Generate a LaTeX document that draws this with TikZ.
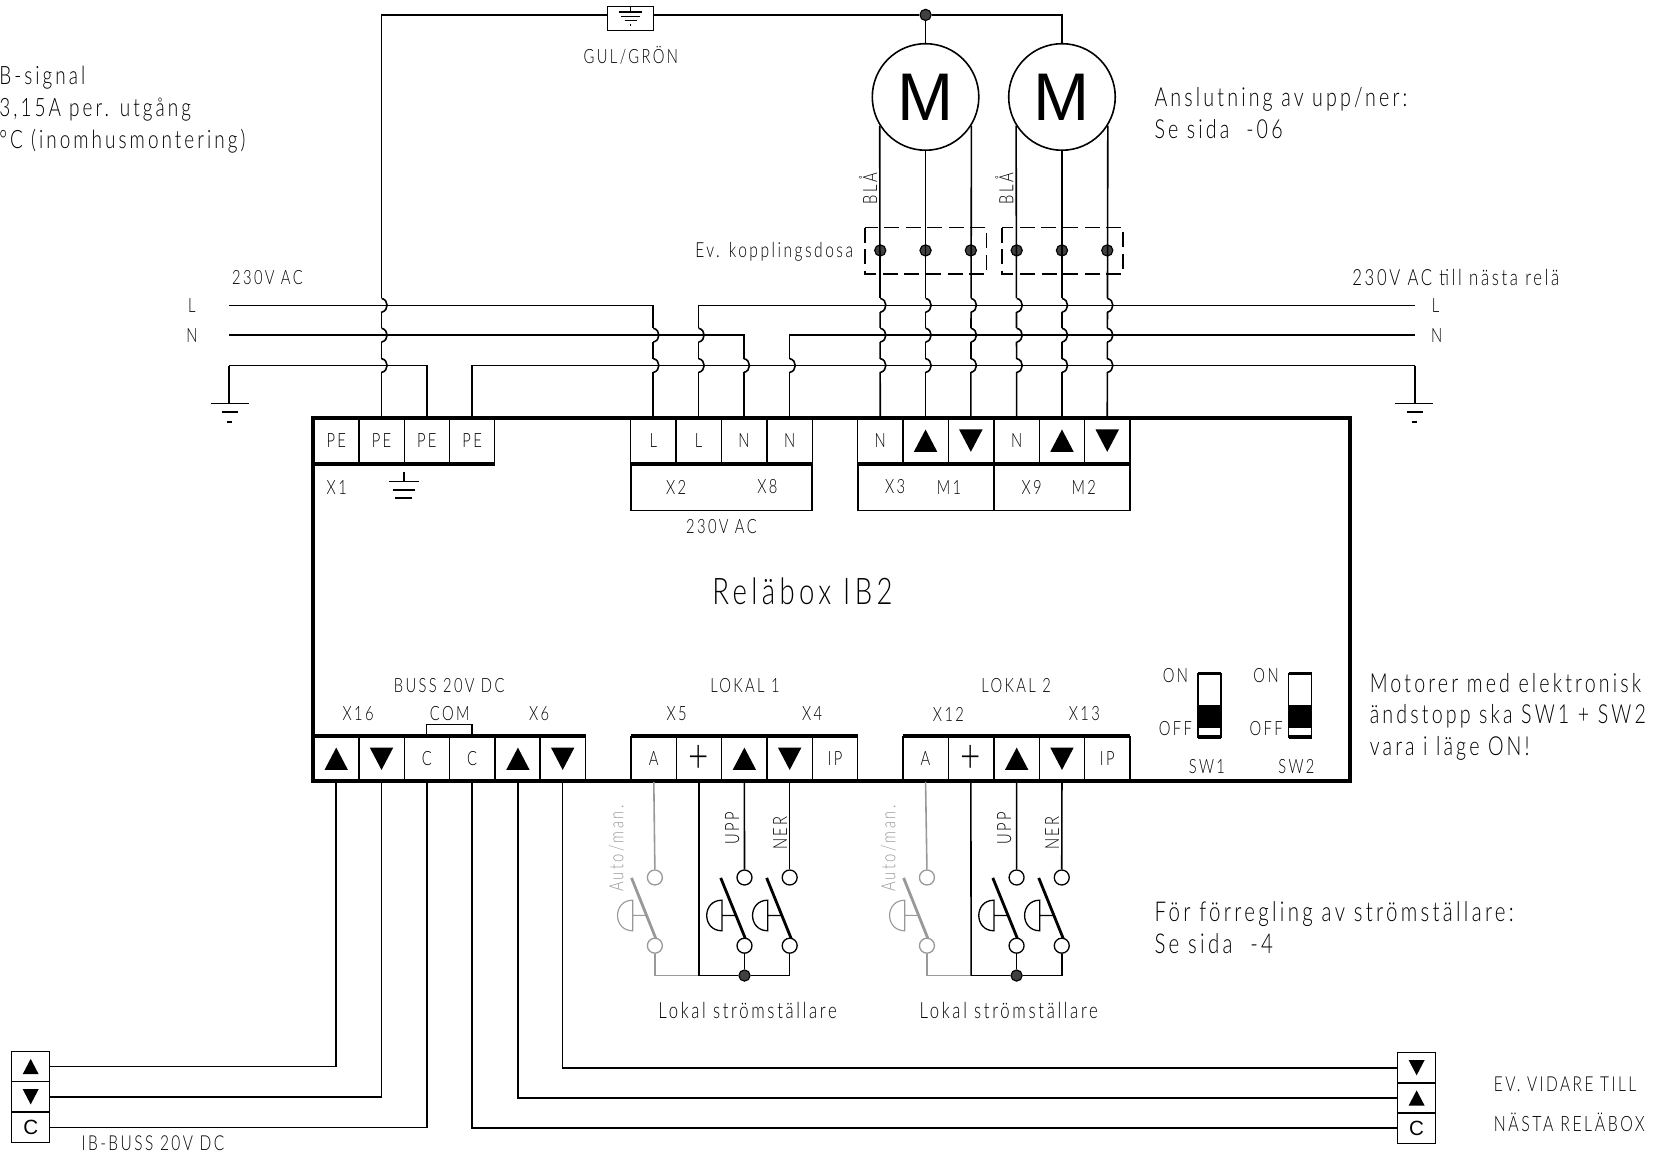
\documentclass[tikz,border=0pt]{standalone}
\usepackage{fontspec}
\setmainfont{Lato Light}[FakeStretch=0.75,LetterSpace=12]
\newfontfamily\widefont{Liberation Sans}
\tikzset{
  wire/.style={line width=0.85pt},
  hvedge/.style={to path={-| (\tikztotarget)}},
  vhedge/.style={to path={|- (\tikztotarget)}},
  bar/.style={line width=1.9pt},
  greyed/.style={black!40},
  cell/.style={draw,line width=0.7pt,minimum width=24.2pt,minimum height=24pt,inner sep=0pt},
  tinycell/.style={draw,line width=0.7pt,minimum width=20.3pt,minimum height=16.2pt,inner sep=0pt,font=\widefont\fontsize{11}{13}\selectfont},
  smalltext/.style={inner sep=0pt,font=\fontsize{10.5}{12}\selectfont},
  widertext/.style={font=\fontsize{11.9}{13}\selectfont},
  bigtext/.style={inner sep=0pt,anchor=base west,font=\fontsize{14}{16}\selectfont},
  contact/.style={circle,draw,fill=white,line width=0.7pt,inner sep=0pt,minimum size=8pt},
  dot/.style={circle,draw,fill=black!75,line width=0.6pt,inner sep=0pt,minimum size=6pt},
  motor/.style={circle,draw,line width=0.85pt,inner sep=0pt,minimum size=56.9pt,font=\widefont\fontsize{36}{36}\selectfont},
  hop/.pic={
    \fill[white] (-1.5,-6.5) rectangle (1.5,6.5);
    \draw[wire] (-3,0) -- (8,0);
    \draw[wire] (0,-6.5) .. controls (7,-5) and (7,5) .. (0,6.5);
  },
  upmark/.pic={\fill (-11,10.5) -- (11,10.5) -- (0,-10.5) -- cycle;},
  downmark/.pic={\fill (-11,-10.5) -- (11,-10.5) -- (0,10.5) -- cycle;},
  localsw/.pic={
    \node[contact,draw=black!40] (-at) at (-41.5,0) {};
    \node[contact,draw=black!40] (-ab) at (-41.5,64) {};
    \node[contact] (-ut) at (42.6,0) {};
    \node[contact] (-ub) at (42.6,64) {};
    \node[contact] (-dt) at (85,0) {};
    \node[contact] (-db) at (85,64) {};
    \coordinate (-p) at (0,92);
    \coordinate (-g) at (-41.5,92);
    \coordinate (-d) at (85,92);
    \node[dot] (-j) at (42.6,92) {};
    \draw[wire,greyed] (-ab) -- (-g) -- (-p);
    \draw[wire] (-p) -- (-j) -- (-d) -- (-db);
    \draw[wire] (-ub) -- (-j);
    \draw[bar,black!40,line width=1.5pt] (-63.4,0.4) -- (-40.7,57);
    \draw[bar,line width=1.5pt] (20.3,0.4) -- (43.3,57);
    \draw[bar,line width=1.5pt] (63.4,0.4) -- (86.3,57);
    \draw[wire,black!40,line width=0.6pt] (-62.3,21.3) .. controls (-81.3,21.3) and (-81.3,50) .. (-62.3,50) -- cycle (-62.3,35.6) -- (-49,35.6);
    \draw[wire,line width=0.7pt] (21.4,21.3) .. controls (2.4,21.3) and (2.4,50) .. (21.4,50) -- cycle (21.4,35.6) -- (34.6,35.6);
    \draw[wire,line width=0.7pt] (64.4,21.3) .. controls (45.4,21.3) and (45.4,50) .. (64.4,50) -- cycle (64.4,35.6) -- (77.7,35.6);
    \node[smalltext,rotate=90,black!40] (-alab) at (-77.4,-27) {Auto/man.};
    \node[smalltext,rotate=90] (-ulab) at (31,-46) {UPP};
    \node[smalltext,rotate=90] (-nlab) at (76,-41.5) {NER};
  }
}

\begin{document}
\begin{tikzpicture}[x=0.02cm,y=-0.02cm]
    \useasboundingbox (0,0) rectangle (1568,1084);
    % relay box
    \draw[line width=2.3pt] (294,392.5) rectangle (1267,733);
    \node[inner sep=0pt,font=\fontsize{19.6}{21}\selectfont] (boxname) at (753,555) {Reläbox IB2};
    % terminals, top row
    \begin{scope}[every node/.style={cell,font=\fontsize{10.5}{12}\selectfont}]
      \node (pea) at (315.5,413.5) {PE};
      \node (peb) at (358,413.5) {PE};
      \node (pec) at (400.5,413.5) {PE};
      \node (ped) at (443,413.5) {PE};
      \node (la) at (613,413.5) {L};
      \node (lb) at (655.5,413.5) {L};
      \node (na) at (698,413.5) {N};
      \node (nb) at (741,413.5) {N};
      \node (mna) at (826,413.5) {N};
      \node (mua) at (868.5,413.5) {};
      \node (mda) at (911,413.5) {};
      \node (mnb) at (954,413.5) {N};
      \node (mub) at (996.5,413.5) {};
      \node (mdb) at (1039,413.5) {};
    \end{scope}
    \pic at (mua) {upmark};
    \pic at (mda) {downmark};
    \pic at (mub) {upmark};
    \pic at (mdb) {downmark};
    \draw[bar] (294,435.5) -- (464.5,435.5);
    \draw[bar] (592,435.5) -- (762,435.5);
    \draw[bar] (805,435.5) -- (1060,435.5);
    \node[cell,minimum width=96.8pt,minimum height=24.6pt] (lowlx) at (677,457.5) {};
    \node[cell,minimum width=72.6pt,minimum height=24.6pt] (lowa) at (869,457.5) {};
    \node[cell,minimum width=72.6pt,minimum height=24.6pt] (lowb) at (996.5,457.5) {};
    % terminals, bottom row
    \begin{scope}[every node/.style={cell,font=\fontsize{10.5}{12}\selectfont}]
      \node (busua) at (315.5,712) {};
      \node (busda) at (358,712) {};
      \node (busca) at (400.5,712) {C};
      \node (buscb) at (443,712) {C};
      \node (busub) at (486,712) {};
      \node (busdb) at (528,712) {};
      \node (aa) at (613.5,712) {A};
      \node (pa) at (656,712) {\fontsize{25}{25}\selectfont +};
      \node (ua) at (698.5,712) {};
      \node (da) at (741,712) {};
      \node (ipa) at (783.5,712) {IP};
      \node (ab) at (868.5,712) {A};
      \node (pb) at (911,712) {\fontsize{25}{25}\selectfont +};
      \node (ub) at (954,712) {};
      \node (db) at (996.5,712) {};
      \node (ipb) at (1039,712) {IP};
    \end{scope}
    \pic at (busua) {upmark};
    \pic at (busda) {downmark};
    \pic at (busub) {upmark};
    \pic at (busdb) {downmark};
    \pic at (ua) {upmark};
    \pic at (da) {downmark};
    \pic at (ub) {upmark};
    \pic at (db) {downmark};
    \draw[bar] (294,690.5) -- (549.5,690.5);
    \draw[bar] (592,690.5) -- (805.5,690.5);
    \draw[bar] (847,690.5) -- (1060.5,690.5);
    \draw[wire,line width=0.7pt] (busca.north) |- (422,680) -| (buscb.north);
    % motors
    \node[motor] (ma) at (868.5,91) {M};
    \node[motor] (mb) at (996.5,91) {M};
    \node[dot] (jtop) at (868.5,14) {};
    \node[dot] (ja) at (826,235) {};
    \node[dot] (jb) at (868.5,235) {};
    \node[dot] (jc) at (911,235) {};
    \node[dot] (jd) at (954,235) {};
    \node[dot] (je) at (996.5,235) {};
    \node[dot] (jf) at (1039,235) {};
    \coordinate (fusel) at (570,14);
    \coordinate (fuser) at (613,14);
    \coordinate (lin) at (215,286.5);
    \coordinate (lout) at (1327.5,286.5);
    \coordinate (nin) at (215,314.5);
    \coordinate (nout) at (1327.5,314.5);
    \coordinate (pein) at (215,343);
    \coordinate (peout) at (1327.5,343);
    \coordinate (gndl) at (215,378.5);
    \coordinate (gndr) at (1327.5,378.5);
    % wires
    \begin{scope}[every edge/.style={draw,wire}]
      \path (peb.north) edge[vhedge] (fusel);
      \path (fuser) edge (jtop);
      \path (jtop) edge[hvedge] (mb.north);
      \path (jtop) edge (ma.north);
      \path (ma.-148) edge (mna.north);
      \path (ma.south) edge (mua.north);
      \path (ma.-32) edge (mda.north);
      \path (mb.-148) edge (mnb.north);
      \path (mb.south) edge (mub.north);
      \path (mb.-32) edge (mdb.north);
      \path (lin) edge[hvedge] (la.north);
      \path (lout) edge[hvedge] (lb.north);
      \path (nin) edge[hvedge] (na.north);
      \path (nout) edge[hvedge] (nb.north);
      \path (pein) edge[hvedge] (pec.north);
      \path (peout) edge[hvedge] (ped.north);
      \path (pein) edge (gndl);
      \path (peout) edge (gndr);
    \end{scope}
    % crossings
    \path (358,286.5) pic {hop} (358,314.5) pic {hop} (358,343) pic {hop};
    \path (613,314.5) pic {hop} (613,343) pic {hop};
    \path (655.5,314.5) pic {hop} (655.5,343) pic {hop};
    \path (698,343) pic {hop};
    \path (741,343) pic {hop};
    \path (826,286.5) pic {hop} (826,314.5) pic {hop} (826,343) pic {hop};
    \path (868.5,286.5) pic {hop} (868.5,314.5) pic {hop} (868.5,343) pic {hop};
    \path (911,286.5) pic {hop} (911,314.5) pic {hop} (911,343) pic {hop};
    \path (954,286.5) pic {hop} (954,314.5) pic {hop} (954,343) pic {hop};
    \path (996.5,286.5) pic {hop} (996.5,314.5) pic {hop} (996.5,343) pic {hop};
    \path (1039,286.5) pic {hop} (1039,314.5) pic {hop} (1039,343) pic {hop};
    % earth symbols
    \draw[wire] (198,378.5) -- (234,378.5);
    \draw[wire] (208,386.5) -- (223,386.5);
    \draw[wire] (213,396) -- (218,396);
    \draw[wire] (1309,378.5) -- (1345,378.5);
    \draw[wire] (1320,386.5) -- (1335,386.5);
    \draw[wire] (1325,396) -- (1330,396);
    \draw[wire] (379,443) -- (379,452);
    \draw[wire] (365,452) -- (393.5,452);
    \draw[wire] (368.5,460) -- (389.5,460);
    \draw[wire] (371,467.5) -- (387,467.5);
    % protective earth box
    \node[draw,wire,minimum width=24.5pt,minimum height=12.8pt,inner sep=0pt] (fuse) at (591.5,17.2) {};
    \draw[wire] (591.5,6) -- (591.5,11.3);
    \draw[wire] (580.5,11.3) -- (602.5,11.3);
    \draw[wire] (583,15.5) -- (600.5,15.5);
    \draw[wire] (586,19.4) -- (597.5,19.4);
    \draw[wire] (591,23.6) -- (592.5,23.6);
    % junction boxes
    \draw[wire,dashed,dash pattern=on 8pt off 3.5pt] (811.4,213.5) rectangle (925.5,257);
    \draw[wire,dashed,dash pattern=on 8pt off 3.5pt] (940,213.5) rectangle (1053.5,257);
    % local switches
    \pic (swa) at (656,823.4) {localsw};
    \pic (swb) at (911.3,823.4) {localsw};
    \begin{scope}[every edge/.style={draw,wire}]
      \path (aa.south) edge[black!40] (swa-at.north);
      \path (pa.south) edge (swa-p);
      \path (ua.south) edge (swa-ut.north);
      \path (da.south) edge (swa-dt.north);
      \path (ab.south) edge[black!40] (swb-at.north);
      \path (pb.south) edge (swb-p);
      \path (ub.south) edge (swb-ut.north);
      \path (db.south) edge (swb-dt.north);
    \end{scope}
    % DIP switches
    \node[draw,line width=0.7pt,minimum width=12.3pt,minimum height=34.2pt,inner sep=0pt] (swone) at (1134.8,662) {};
    \node[draw,line width=0.7pt,minimum width=12.3pt,minimum height=34.2pt,inner sep=0pt] (swtwo) at (1220,662) {};
    \fill (1124,661.4) rectangle (1145.6,683.3);
    \fill (1209.2,661.4) rectangle (1230.8,683.3);
    \draw[bar] (1124,632) -- (1145.6,632);
    \draw[bar] (1124,691.5) -- (1145.6,691.5);
    \draw[bar] (1209.2,632) -- (1230.8,632);
    \draw[bar] (1209.2,691.5) -- (1230.8,691.5);
    % bus ends
    \node[tinycell] (ibu) at (28.8,1000.8) {};
    \node[tinycell] (ibd) at (28.8,1029.2) {};
    \node[tinycell] (ibc) at (28.8,1057.8) {C};
    \node[tinycell] (nxd) at (1329.3,1001.9) {};
    \node[tinycell] (nxu) at (1329.3,1030.3) {};
    \node[tinycell] (nxc) at (1329.3,1058.7) {C};
    \pic[scale=.68] at (ibu) {upmark};
    \pic[scale=.68] at (ibd) {downmark};
    \pic[scale=.68] at (nxd) {downmark};
    \pic[scale=.68] at (nxu) {upmark};
    \begin{scope}[every edge/.style={draw,wire}]
      \path (busua.south) edge[vhedge] (ibu.east);
      \path (busda.south) edge[vhedge] (ibd.east);
      \path (busca.south) edge[vhedge] (ibc.east);
      \path (busdb.south) edge[vhedge] (nxd.west);
      \path (busub.south) edge[vhedge] (nxu.west);
      \path (buscb.south) edge[vhedge] (nxc.west);
    \end{scope}
    % labels
    \begin{scope}[every node/.style={smalltext}]
      \node (tgul) at (592,52) {GUL/GRÖN};
      \node[font=\fontsize{11.1}{13}\selectfont] (tdosa) at (726.5,236) {Ev. kopplingsdosa};
      \node[rotate=90] (tblaa) at (814.5,177) {BLÅ};
      \node[rotate=90] (tblab) at (942.5,177) {BLÅ};
      \node (tac) at (251,260) {230V AC};
      \node[widertext] (tacn) at (1366,260) {230V AC till nästa relä};
      \node (tla) at (180,287) {L};
      \node (tna) at (180,315) {N};
      \node (tlb) at (1347,287) {L};
      \node (tnb) at (1348,315) {N};
      \node (tx1) at (316,457) {X1};
      \node (tx2) at (634.5,457) {X2};
      \node (tx8) at (720,457) {X8};
      \node (tx3) at (840,457) {X3};
      \node (tm1) at (890.5,457) {M1};
      \node (tx9) at (968,457) {X9};
      \node (tm2) at (1017,457) {M2};
      \node (tacb) at (677,494) {230V AC};
      \node (tbuss) at (421.5,643) {BUSS 20V DC};
      \node (tx16) at (336,670) {X16};
      \node (tcom) at (422,670) {COM};
      \node (tx6) at (506,670) {X6};
      \node (tlok1) at (699,643) {LOKAL 1};
      \node (tx5) at (635,670) {X5};
      \node (tx4) at (762,670) {X4};
      \node (tlok2) at (953.5,643) {LOKAL 2};
      \node (tx12) at (890,670) {X12};
      \node (tx13) at (1017.5,670) {X13};
      \node (ton) at (1103,634) {ON};
      \node (toff) at (1103,684) {OFF};
      \node (tonb) at (1188,634) {ON};
      \node (toffb) at (1188,684) {OFF};
      \node (tsw1) at (1132.5,719) {SW1};
      \node (tsw2) at (1216.5,719) {SW2};
      \node[widertext] (tloka) at (701.5,948) {Lokal strömställare};
      \node[widertext] (tlokb) at (946.5,948) {Lokal strömställare};
      \node[font=\fontsize{11}{13}\selectfont] (tib) at (143.5,1073) {IB-BUSS 20V DC};
      \node[anchor=west,font=\fontsize{11}{13}\selectfont] (tev) at (1401.5,1017) {EV. VIDARE TILL};
      \node[anchor=west,font=\fontsize{11.3}{13}\selectfont] (tnasta) at (1401.5,1053) {NÄSTA RELÄBOX};
    \end{scope}
    \begin{scope}[every node/.style={bigtext}]
      \node[font=\fontsize{13.5}{16}\selectfont] (tsig) at (-1,79) {B-signal};
      \node[font=\fontsize{13.5}{16}\selectfont] (tamp) at (-1,109) {3,15A per. utgång};
      \node[font=\fontsize{13.5}{16}\selectfont] (ttemp) at (-1,139) {°C (inomhusmontering)};
      \node (tupp) at (1083,100) {Anslutning av upp/ner:};
      \node (tupps) at (1083,130) {Se sida\ \ -06};
      \node (tmot) at (1285,649.5) {Motorer med elektronisk};
      \node (tand) at (1285,679) {ändstopp ska SW1 + SW2};
      \node (tvara) at (1285,708.5) {vara i läge ON!};
      \node[font=\fontsize{14.6}{16}\selectfont] (tforr) at (1083,865) {För förregling av strömställare:};
      \node[font=\fontsize{14.6}{16}\selectfont] (tforrs) at (1083,894.5) {Se sida\ \ -4};
    \end{scope}
  \end{tikzpicture}
\end{document}
